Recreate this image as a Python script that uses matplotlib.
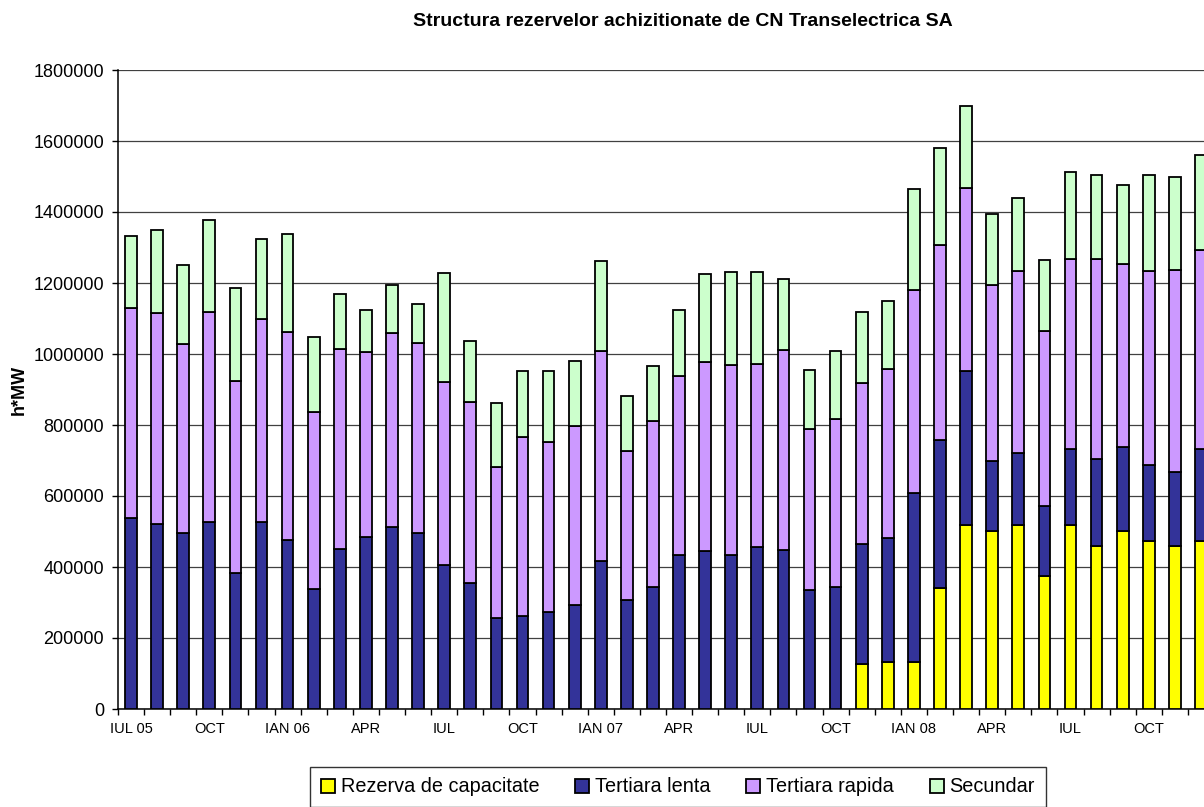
import numpy as np
import matplotlib
matplotlib.use('Agg')
import matplotlib.pyplot as plt
from matplotlib.ticker import FuncFormatter

plt.rcParams['font.family'] = ['Liberation Sans', 'DejaVu Sans']

# luni: IUL 2005 .. DEC 2008
luni = ['IUL 05', 'AUG', 'SEP', 'OCT', 'NOI', 'DEC',
        'IAN 06', 'FEB', 'MAR', 'APR', 'MAI', 'IUN', 'IUL', 'AUG', 'SEP', 'OCT', 'NOI', 'DEC',
        'IAN 07', 'FEB', 'MAR', 'APR', 'MAI', 'IUN', 'IUL', 'AUG', 'SEP', 'OCT', 'NOI', 'DEC',
        'IAN 08', 'FEB', 'MAR', 'APR', 'MAI', 'IUN', 'IUL', 'AUG', 'SEP', 'OCT', 'NOI', 'DEC']

rezerva_capacitate = [0] * 28 + [127000, 132000, 132000, 340000, 518000, 502000, 518000,
                                 376000, 518000, 460000, 502000, 474000, 459000, 474000]

tertiara_lenta = [539000, 522000, 495000, 527000, 384000, 528000,
                  476000, 337000, 452000, 484000, 513000, 495000,
                  405000, 355000, 255000, 261000, 273000, 292000,
                  417000, 306000, 344000, 433000, 446000, 433000,
                  456000, 449000, 335000, 345000, 337000, 349000,
                  477000, 417000, 433000, 196000, 204000, 196000,
                  215000, 244000, 235000, 212000, 209000, 257000]

tertiara_rapida = [590000, 594000, 533000, 592000, 540000, 570000,
                   587000, 499000, 563000, 523000, 546000, 535000,
                   515000, 510000, 428000, 504000, 479000, 505000,
                   591000, 422000, 468000, 506000, 531000, 535000,
                   516000, 562000, 454000, 471000, 455000, 476000,
                   572000, 550000, 518000, 495000, 511000, 493000,
                   534000, 563000, 517000, 549000, 568000, 562000]

secundar = [203000, 233000, 222000, 259000, 263000, 226000,
            276000, 212000, 153000, 117000, 135000, 110000,
            309000, 172000, 178000, 188000, 200000, 182000,
            254000, 155000, 154000, 185000, 248000, 263000,
            259000, 200000, 165000, 192000, 198000, 191000,
            285000, 274000, 229000, 200000, 206000, 201000,
            246000, 238000, 222000, 268000, 263000, 267000]

serii = [('Rezerva de capacitate', rezerva_capacitate, '#FFFF00'),
         ('Tertiara lenta', tertiara_lenta, '#333399'),
         ('Tertiara rapida', tertiara_rapida, '#CC99FF'),
         ('Secundar', secundar, '#CCFFCC')]

fig = plt.figure(figsize=(12.04, 8.07), dpi=100)
# graficul original e taiat in dreapta, axele ies putin din imagine
ax = fig.add_axes([118 / 1204, 98 / 807, 1096 / 1204, 639 / 807])

x = np.arange(len(luni))
baza = np.zeros(len(luni))
for nume, val, culoare in serii:
    val = np.array(val, dtype=float)
    ax.bar(x, val, width=0.45, bottom=baza, color=culoare, edgecolor='black',
           linewidth=1.3, label=nume, zorder=3)
    baza += val

ax.set_xlim(-0.5, len(luni) - 0.5)
ax.set_ylim(0, 1800000)
ax.set_yticks(np.arange(0, 1800001, 200000))
ax.yaxis.set_major_formatter(FuncFormatter(lambda v, p: '%d' % v))
ax.yaxis.grid(True, color='#404040', linewidth=0.9, zorder=0)
ax.set_axisbelow(True)

ax.set_xticks(x[::3])
ax.set_xticklabels(luni[::3], fontsize=10.5)
ax.set_xticks(np.arange(-0.5, len(luni), 1), minor=True)
ax.tick_params(axis='x', which='major', length=0, pad=9.5)
ax.tick_params(axis='x', which='minor', length=4, width=1, direction='out')
ax.tick_params(axis='y', labelsize=13, length=4, width=1, pad=6)

for s in ['top', 'right']:
    ax.spines[s].set_visible(False)
ax.spines['left'].set_linewidth(1.1)
ax.spines['bottom'].set_linewidth(1.1)

fig.text(683 / 1204, 1 - 22 / 807, 'Structura rezervelor achizitionate de CN Transelectrica SA',
         ha='center', va='center', fontsize=14, fontweight='bold')
fig.text(19 / 1204, 1 - 390 / 807, 'h*MW', ha='center', va='center', rotation=90,
         fontsize=13, fontweight='bold')

leg = fig.legend(loc='center', bbox_to_anchor=(678 / 1204, 1 - 787 / 807), ncol=4,
                 fontsize=14.3, frameon=True, fancybox=False, edgecolor='black',
                 handlelength=0.7, handleheight=0.7, handletextpad=0.3,
                 columnspacing=1.8, borderpad=0.55, borderaxespad=0)
leg.get_frame().set_linewidth(1.0)

plt.savefig('out.png', dpi=100)
